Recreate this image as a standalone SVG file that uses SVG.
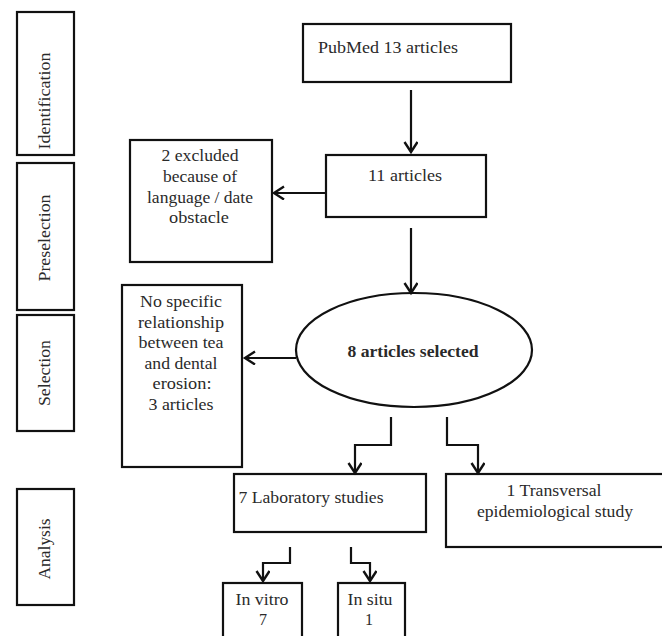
<svg xmlns="http://www.w3.org/2000/svg" width="662" height="636" viewBox="0 0 662 636">
<defs>
<style>
.box{fill:#fff;stroke:#111;stroke-width:2.2}
.t{font-family:'Liberation Serif','DejaVu Serif',serif;font-size:16px;fill:#2a2a2a;text-anchor:middle}
.b{font-weight:bold}
.c{fill:none;stroke:#111;stroke-width:2.2}
</style>
<marker id="ah" markerWidth="16" markerHeight="16" refX="12" refY="7" orient="auto" markerUnits="userSpaceOnUse">
<path d="M2,0.5 L12,7 L2,13.5" fill="none" stroke="#111" stroke-width="2.4"/>
</marker>
</defs>
<rect width="662" height="636" fill="#fff"/>

<g id="phase-identification">
<rect class="box" x="17" y="12" width="57" height="143"/>
<text class="t" transform="translate(50,101) rotate(-90)" textLength="97" lengthAdjust="spacingAndGlyphs">Identification</text>
</g>
<g id="phase-preselection">
<rect class="box" x="17" y="163" width="57" height="147"/>
<text class="t" transform="translate(50,238) rotate(-90)" textLength="87" lengthAdjust="spacingAndGlyphs">Preselection</text>
</g>
<g id="phase-selection">
<rect class="box" x="17" y="315" width="57" height="116"/>
<text class="t" transform="translate(50,373) rotate(-90)" textLength="66" lengthAdjust="spacingAndGlyphs">Selection</text>
</g>
<g id="phase-analysis">
<rect class="box" x="17" y="489" width="57" height="116"/>
<text class="t" transform="translate(50,549) rotate(-90)" textLength="61" lengthAdjust="spacingAndGlyphs">Analysis</text>
</g>

<g id="pubmed">
<rect class="box" x="303" y="24" width="208" height="58"/>
<text class="t" x="388" y="53" textLength="140" lengthAdjust="spacingAndGlyphs">PubMed 13 articles</text>
</g>
<g id="articles11">
<rect class="box" x="326" y="155" width="160" height="62"/>
<text class="t" x="405" y="181" textLength="74" lengthAdjust="spacingAndGlyphs">11 articles</text>
</g>
<g id="excluded">
<rect class="box" x="130" y="140" width="142" height="122"/>
<text class="t" x="200" y="161" textLength="77" lengthAdjust="spacingAndGlyphs">2 excluded</text>
<text class="t" x="200" y="182" textLength="74" lengthAdjust="spacingAndGlyphs">because of</text>
<text class="t" x="200" y="203" textLength="106" lengthAdjust="spacingAndGlyphs">language / date</text>
<text class="t" x="199" y="223" textLength="60" lengthAdjust="spacingAndGlyphs">obstacle</text>
</g>
<g id="selected">
<ellipse class="box" cx="414" cy="350" rx="118" ry="57"/>
<text class="t b" x="413" y="357" textLength="131" lengthAdjust="spacingAndGlyphs">8 articles selected</text>
</g>
<g id="no-relationship">
<rect class="box" x="122" y="285" width="120" height="182"/>
<text class="t" x="181" y="307" textLength="82" lengthAdjust="spacingAndGlyphs">No specific</text>
<text class="t" x="181" y="328" textLength="86" lengthAdjust="spacingAndGlyphs">relationship</text>
<text class="t" x="181" y="348" textLength="85" lengthAdjust="spacingAndGlyphs">between tea</text>
<text class="t" x="181" y="369" textLength="73" lengthAdjust="spacingAndGlyphs">and dental</text>
<text class="t" x="182" y="389" textLength="59" lengthAdjust="spacingAndGlyphs">erosion:</text>
<text class="t" x="181" y="410" textLength="65" lengthAdjust="spacingAndGlyphs">3 articles</text>
</g>
<g id="laboratory">
<rect class="box" x="234" y="474" width="192" height="58"/>
<text class="t" x="311" y="503" textLength="145" lengthAdjust="spacingAndGlyphs">7 Laboratory studies</text>
</g>
<g id="transversal">
<rect class="box" x="446" y="474" width="220" height="73"/>
<text class="t" x="554" y="496" textLength="95" lengthAdjust="spacingAndGlyphs">1 Transversal</text>
<text class="t" x="555" y="517" textLength="156" lengthAdjust="spacingAndGlyphs">epidemiological study</text>
</g>
<g id="in-vitro">
<rect class="box" x="223" y="583" width="79" height="60"/>
<text class="t" x="262" y="605" textLength="53" lengthAdjust="spacingAndGlyphs">In vitro</text>
<text class="t" x="263" y="625">7</text>
</g>
<g id="in-situ">
<rect class="box" x="338" y="583" width="67" height="60"/>
<text class="t" x="370" y="605" textLength="45" lengthAdjust="spacingAndGlyphs">In situ</text>
<text class="t" x="369" y="625">1</text>
</g>

<g id="connectors">
<path class="c" d="M411,90 V152" marker-end="url(#ah)"/>
<path class="c" d="M326,193 H274" marker-end="url(#ah)"/>
<path class="c" d="M411,228 V293" marker-end="url(#ah)"/>
<path class="c" d="M296,358 H245" marker-end="url(#ah)"/>
<path class="c" d="M391,417 V445 H355 V473" marker-end="url(#ah)"/>
<path class="c" d="M447,417 V445 H478 V473" marker-end="url(#ah)"/>
<path class="c" d="M290,547 V563 H263 V581" marker-end="url(#ah)"/>
<path class="c" d="M351,547 V563 H370 V581" marker-end="url(#ah)"/>
</g>
</svg>
